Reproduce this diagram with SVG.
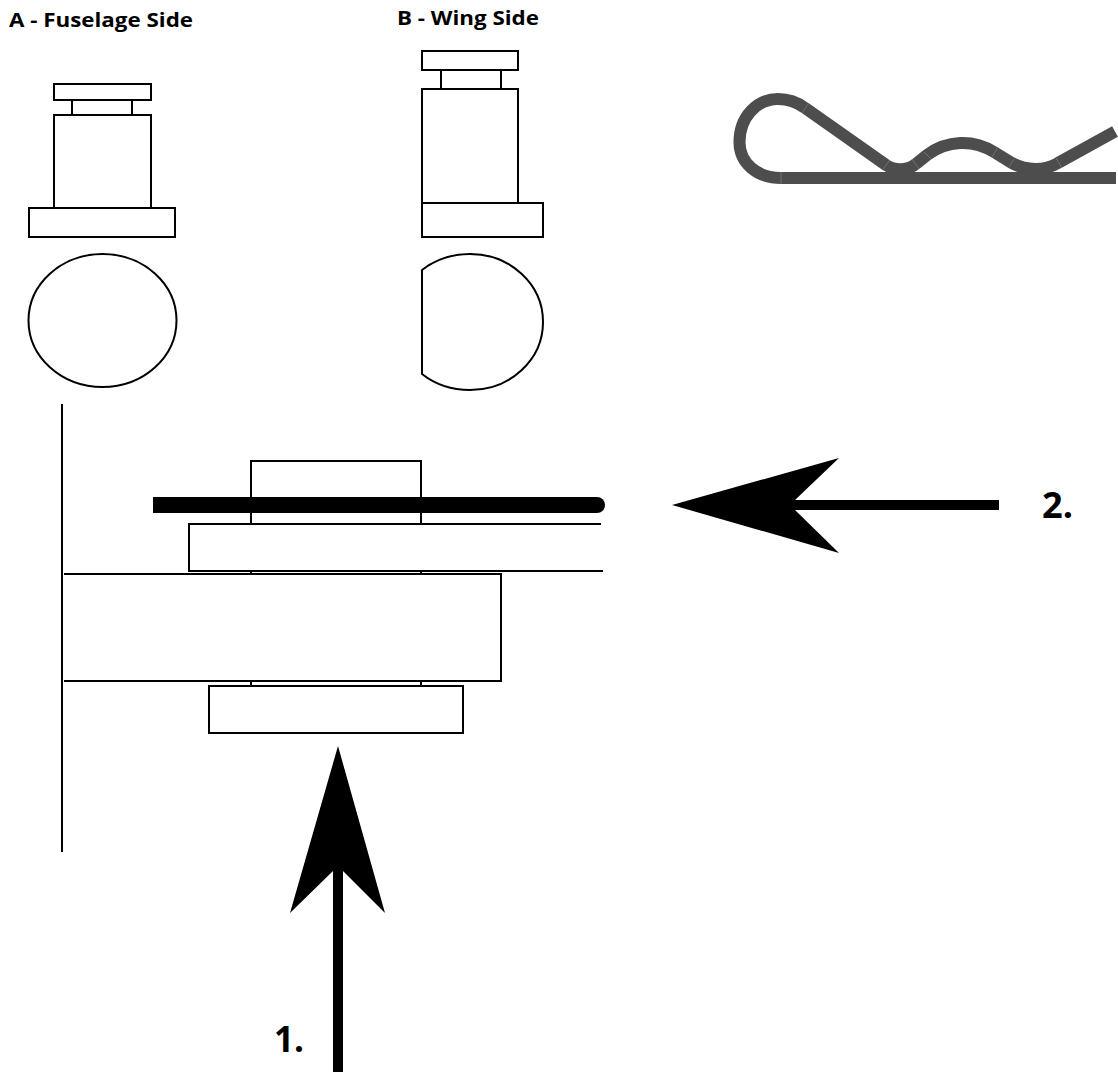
<svg xmlns="http://www.w3.org/2000/svg" width="1118" height="1073" viewBox="0 0 1118 1073">
<style>
.o{fill:#fff;stroke:#000;stroke-width:2}
.n{fill:none;stroke:#000;stroke-width:2}
.t{font-family:"Open Sans","Liberation Sans",sans-serif;font-weight:700;fill:#000}
.l{font-size:20px}
.b{font-size:35px}
.c{fill:none;stroke:#4d4d4d;stroke-width:12}
.s{fill:none;stroke:#8a8a8a;stroke-width:.6}
</style>
<rect width="1118" height="1073" fill="#fff"/>
<g id="label-a"><text class="t l" x="9" y="26.500" textLength="184" lengthAdjust="spacingAndGlyphs">A - Fuselage Side</text></g>
<g id="label-b"><text class="t l" x="397" y="24.500" textLength="142" lengthAdjust="spacingAndGlyphs">B - Wing Side</text></g>
<g id="pin-a">
<path class="n" d="M72 99V115M132 99V115"/>
<rect class="o" x="54" y="84" width="97" height="16"/>
<rect class="o" x="54" y="115" width="97" height="93"/>
<rect class="o" x="29" y="208" width="146" height="29"/>
<ellipse class="o" cx="102.500" cy="320.500" rx="74" ry="66.500"/>
</g>
<g id="pin-b">
<path class="n" d="M441 70V89M501 70V89"/>
<rect class="o" x="422" y="51" width="96" height="19"/>
<rect class="o" x="422" y="89" width="96" height="114"/>
<rect class="o" x="422" y="203" width="121" height="34"/>
<path class="o" d="M422 270C436 259 452 254 470 254C510 254 543 284 543 322C543 360 510 390 470 390C452 390 436 385 422 374Z"/>
</g>
<g id="clip">
<path class="c" d="M781 178H1116"/>
<path class="c" d="M781 178C757 178 739.500 163 739.500 142C739.500 117 757 99 778 99C788 99 797 102 805 108L886 165C895 171 908 171 917 163L927 155C947 140 973 139 994 152L1012 163C1026 171 1045 171 1058 163L1115 131.500"/>
<path class="s" d="M781 172V184M802 113L809 103M883 169L890 160M912 159L919 169M924 152L931 159M998 147L992 157M1014 159L1009 167M1056 158L1062 168"/>
</g>
<g id="assembly">
<path class="n" d="M62 404V852"/>
<rect class="o" x="251" y="461" width="170" height="63"/>
<path class="n" d="M251 571V686M421 571V686"/>
<path fill="#fff" stroke="#000" stroke-width="2" d="M601 524H189V571H603"/>
<path fill="#fff" stroke="#000" stroke-width="2" d="M64 574H501V681H64"/>
<rect class="o" x="209" y="686" width="254" height="47"/>
<path d="M153 497H597A8 8 0 0 1 597 513H153Z" fill="#000"/>
</g>
<g id="connectors">
<path d="M338 746L385 913L343 871V1072H333V871L290 913Z" fill="#000"/>
<path d="M672 505L839 458L795 500H999V510H795L839 553Z" fill="#000"/>
</g>
<g id="label-1"><text class="t b" x="274" y="1052" textLength="30" lengthAdjust="spacingAndGlyphs">1.</text></g>
<g id="label-2"><text class="t b" x="1042" y="518" textLength="31" lengthAdjust="spacingAndGlyphs">2.</text></g>
</svg>
